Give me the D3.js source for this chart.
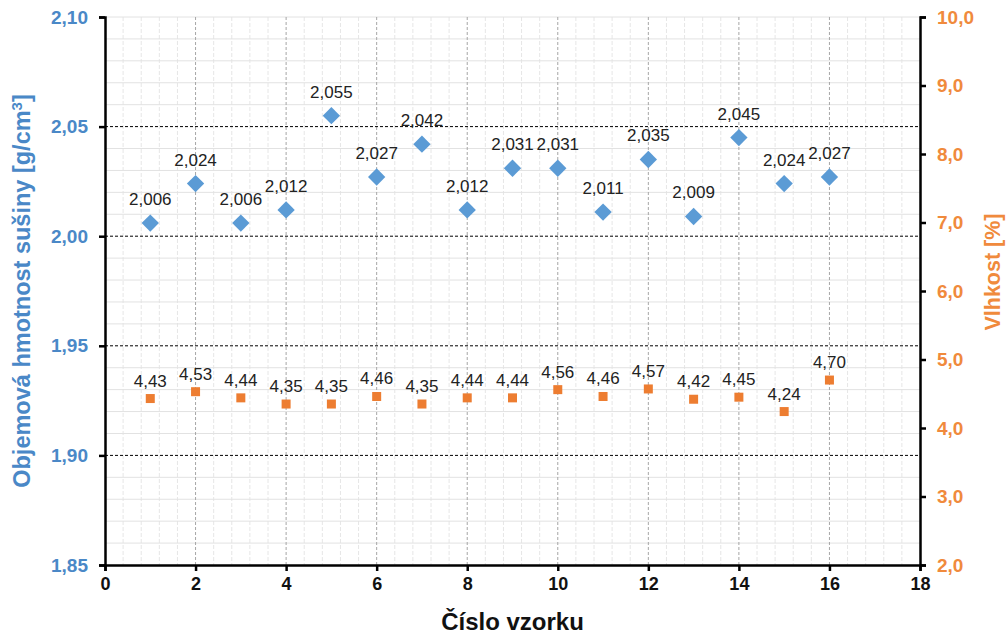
<!DOCTYPE html>
<html>
<head>
<style>
  body { margin: 0; background: #fff; font-family: 'Liberation Sans', Arial, sans-serif; }
</style>
</head>
<body>
<svg id="chart"></svg>
<script src="https://cdn.jsdelivr.net/npm/d3@7"></script>
<script>

var samples = [1, 2, 3, 4, 5, 6, 7, 8, 9, 10, 11, 12, 13, 14, 15, 16];
var density = [2.006, 2.024, 2.006, 2.012, 2.055, 2.027, 2.042, 2.012, 2.031, 2.031, 2.011, 2.035, 2.009, 2.045, 2.024, 2.027];
var moisture = [4.43, 4.53, 4.44, 4.35, 4.35, 4.46, 4.35, 4.44, 4.44, 4.56, 4.46, 4.57, 4.42, 4.45, 4.24, 4.70];
var xTicks = [0, 2, 4, 6, 8, 10, 12, 14, 16, 18];
var leftTicks = [1.85, 1.90, 1.95, 2.00, 2.05, 2.10];
var rightTicks = [2, 3, 4, 5, 6, 7, 8, 9, 10];

var W = 1006, H = 637;
var margin = {top: 17, right: 86, bottom: 72, left: 105};
var width = W - margin.left - margin.right,
    height = H - margin.top - margin.bottom;

var blue = '#5b9bd5', blueText = '#4a88c7', orange = '#ed7d31', orangeText = '#f08a3c';

var svg = d3.select('#chart').attr('width', W).attr('height', H)
  .append('g')
  .attr('transform', 'translate(' + margin.left + ',' + margin.top + ')');

var x = d3.scaleLinear().domain([0, 18]).range([0, width]);
var yL = d3.scaleLinear().domain([1.85, 2.10]).range([height, 0]);
var yR = d3.scaleLinear().domain([2, 10]).range([height, 0]);

// minor grid
var minorX = d3.range(0, 18.001, 0.4).filter(function(v) { return Math.abs(v / 2 - Math.round(v / 2)) > 1e-6; });
svg.selectAll('.minorx').data(minorX).enter().append('line')
  .attr('x1', function(d) { return x(d); }).attr('x2', function(d) { return x(d); })
  .attr('y1', 0).attr('y2', height)
  .attr('stroke', '#e6e6e6').attr('stroke-width', 1).attr('stroke-dasharray', '4,2');

var minorY = d3.range(185, 211, 1).map(function(v) { return v / 100; })
  .filter(function(v) { return Math.round(v * 100) % 5 !== 0 || v > 2.099; });
svg.selectAll('.minory').data(minorY).enter().append('line')
  .attr('x1', 0).attr('x2', width)
  .attr('y1', function(d) { return yL(d); }).attr('y2', function(d) { return yL(d); })
  .attr('stroke', '#e2e2e2').attr('stroke-width', 1);

// major grid
svg.selectAll('.majorx').data(xTicks.slice(1, -1)).enter().append('line')
  .attr('x1', function(d) { return x(d); }).attr('x2', function(d) { return x(d); })
  .attr('y1', 0).attr('y2', height)
  .attr('stroke', '#a6a6a6').attr('stroke-width', 1).attr('stroke-dasharray', '3,2');

svg.selectAll('.majory').data(leftTicks.slice(1, -1)).enter().append('line')
  .attr('x1', 0).attr('x2', width)
  .attr('y1', function(d) { return yL(d); }).attr('y2', function(d) { return yL(d); })
  .attr('stroke', '#000').attr('stroke-width', 1).attr('stroke-dasharray', '3,2');

// axes
var fmt2 = function(d) { return d3.format('.2f')(d).replace('.', ','); };
var fmt1 = function(d) { return d3.format('.1f')(d).replace('.', ','); };

var xAxis = svg.append('g').attr('transform', 'translate(0,' + height + ')')
  .call(d3.axisBottom(x).tickValues(xTicks).tickSize(6).tickPadding(6));
var lAxis = svg.append('g')
  .call(d3.axisLeft(yL).tickValues(leftTicks).tickFormat(fmt2).tickSize(6).tickPadding(11));
var rAxis = svg.append('g').attr('transform', 'translate(' + width + ',0)')
  .call(d3.axisRight(yR).tickValues(rightTicks).tickFormat(fmt1).tickSize(6).tickPadding(11));

[xAxis, lAxis, rAxis].forEach(function(a) {
  a.select('.domain').attr('stroke', '#000').attr('stroke-width', 2.5);
  a.selectAll('.tick line').attr('stroke', '#000').attr('stroke-width', 2.5);
  a.selectAll('.tick text').style('font-size', '19px').style('font-weight', 'bold')
    .style('font-family', "'Liberation Sans', Arial, sans-serif");
});
xAxis.selectAll('.tick text').attr('fill', '#111').style('font-size', '18px');
lAxis.selectAll('.tick text').attr('fill', blueText);
rAxis.selectAll('.tick text').attr('fill', orangeText);

// titles
svg.append('text').attr('x', width / 2).attr('y', height + 65)
  .attr('text-anchor', 'middle').style('font-size', '24px').style('font-weight', 'bold')
  .attr('fill', '#111').text('Číslo vzorku');

var lt = svg.append('text')
  .attr('transform', 'translate(' + (-75) + ',' + (height / 2) + ') rotate(-90)')
  .attr('text-anchor', 'middle').style('font-size', '23.5px').style('font-weight', 'bold')
  .attr('fill', blueText);
lt.append('tspan').text('Objemová hmotnost sušiny [g/cm');
lt.append('tspan').attr('dy', -8).style('font-size', '15px').text('3');
lt.append('tspan').attr('dy', 8).text(']');

svg.append('text')
  .attr('transform', 'translate(' + (width + 80) + ',' + (height / 2 - 19) + ') rotate(-90)')
  .attr('text-anchor', 'middle').style('font-size', '21.5px').style('font-weight', 'bold')
  .attr('fill', orangeText).text('Vlhkost [%]');

// density points
var dData = samples.map(function(s, i) { return {x: s, v: density[i]}; });
svg.selectAll('.dpt').data(dData).enter().append('path')
  .attr('d', d3.symbol().type(d3.symbolSquare).size(150))
  .attr('transform', function(d) { return 'translate(' + x(d.x) + ',' + yL(d.v) + ') rotate(45)'; })
  .attr('fill', blue);
svg.selectAll('.dlab').data(dData).enter().append('text')
  .attr('x', function(d) { return x(d.x); })
  .attr('y', function(d) { return yL(d.v) - 18; })
  .attr('text-anchor', 'middle').style('font-size', '17px').attr('fill', '#222')
  .text(function(d) { return d3.format('.3f')(d.v).replace('.', ','); });

// moisture points
var mData = samples.map(function(s, i) { return {x: s, v: moisture[i]}; });
svg.selectAll('.mpt').data(mData).enter().append('rect')
  .attr('x', function(d) { return x(d.x) - 4.5; })
  .attr('y', function(d) { return yR(d.v) - 4.5; })
  .attr('width', 9).attr('height', 9)
  .attr('fill', orange);
svg.selectAll('.mlab').data(mData).enter().append('text')
  .attr('x', function(d) { return x(d.x); })
  .attr('y', function(d) { return yR(d.v) - 12; })
  .attr('text-anchor', 'middle').style('font-size', '17px').attr('fill', '#222')
  .text(function(d) { return d3.format('.2f')(d.v).replace('.', ','); });

</script>
</body>
</html>
